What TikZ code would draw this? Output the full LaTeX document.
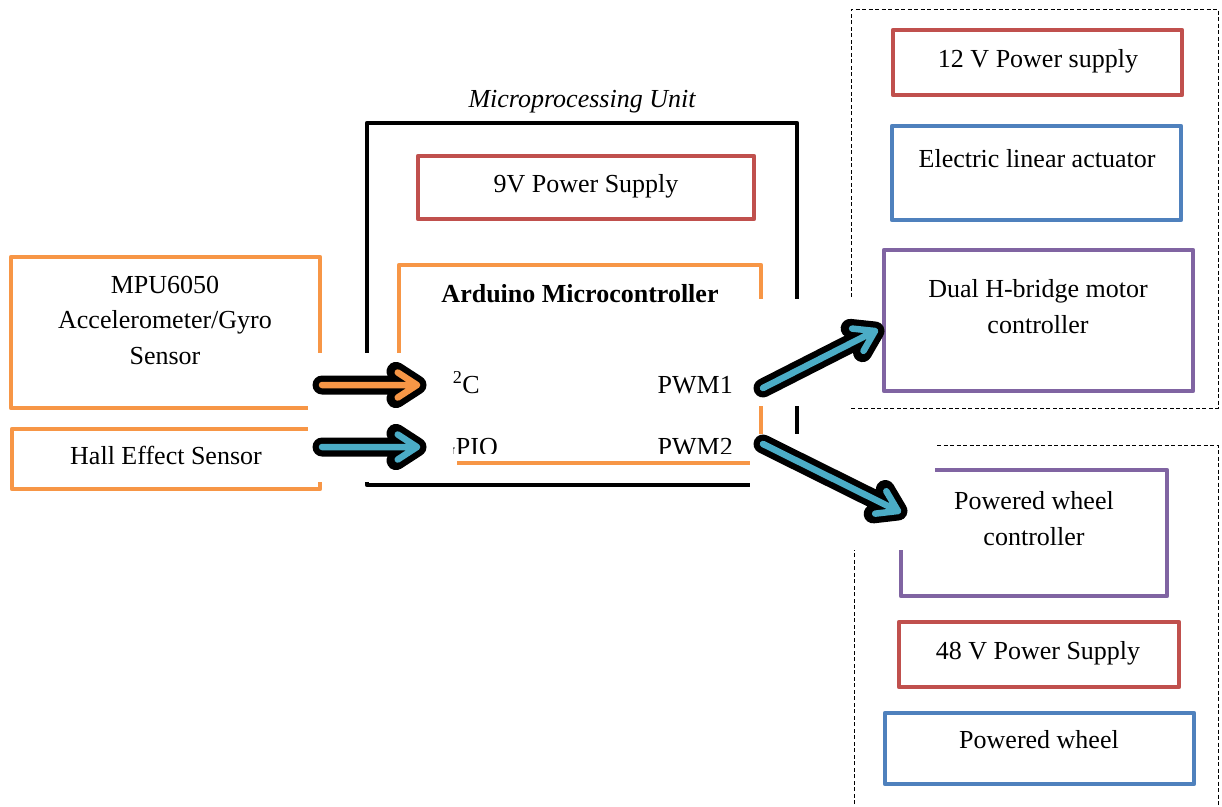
\documentclass[tikz,border=0pt]{standalone}
\usepackage{fontspec}
\setmainfont{Liberation Serif}
\usetikzlibrary{calc,fit}
\definecolor{orgc}{HTML}{F79646}
\definecolor{redc}{HTML}{C0504D}
\definecolor{bluc}{HTML}{4F81BD}
\definecolor{purc}{HTML}{8064A2}
\definecolor{tealc}{HTML}{4BACC6}
\newcommand\sz{\fontsize{26}{35.5}\selectfont}
\newcommand\skarrow[3]{%
  \draw[line width=19pt, line cap=round, line join=round] (#2) -- (#3) ($(#3)!25pt!33:(#2)$) -- (#3) -- ($(#3)!25pt!-33:(#2)$);
  \draw[draw=#1, line width=6.5pt, line cap=round, line join=round] (#2) -- (#3) ($(#3)!23pt!33:(#2)$) -- (#3) -- ($(#3)!23pt!-33:(#2)$);}
\begin{document}
\begin{tikzpicture}[x=1pt,y=-1pt,
  box/.style={draw, line width=4.2pt, line join=round, inner sep=0pt},
  frame/.style={draw=black, line width=4.5pt, line join=round, inner sep=0pt},
  dash1/.style={draw=black, line width=1pt, dash pattern=on 4pt off 2.5pt, inner sep=0pt},
  txt/.style={font=\sz, inner sep=0pt, anchor=base, align=center},
  hide/.style={fill=white, draw=none}]
\fill[white] (0,0) rectangle (1222,806);
\useasboundingbox (0,0) rectangle (1222,806);

% left sensors
\node[box, draw=orgc, fit={(11,257) (320,408)}] (mpu) {};
\node[box, draw=orgc, fit={(12,429) (320,489)}] (hall) {};

% microprocessing unit
\node[frame, fit={(367,123) (797,485)}] (mpuframe) {};
\node[box, draw=redc, fit={(418,156) (754,219)}] (ps9) {};
\node[box, draw=orgc, fit={(399,265) (761,463)}] (ard) {};

% right group 1
\draw[dash1] (851,297) -- (851,9) -- (1218,9) -- (1218,408) -- (851,408);
\node[box, draw=redc, fit={(893,30) (1182,95)}] (ps12) {};
\node[box, draw=bluc, fit={(892,126) (1181,220)}] (act) {};
\node[box, draw=purc, fit={(884,250) (1193,391)}] (hbr) {};

% right group 2
\draw[dash1] (854,830) -- (854,445) -- (1218,445) -- (1218,830);
\node[box, draw=purc, fit={(901,470) (1167,596)}] (pwc) {};
\node[box, draw=redc, fit={(899,622) (1179,687)}] (ps48) {};
\node[box, draw=bluc, fit={(885,713) (1194,784)}] (pw) {};

% white occluding areas
\fill[hide] (308,353) rectangle (457,482);
\fill[hide] (750,299) rectangle (882,406);
\fill[hide] (750,434) rectangle (935,550);

% texts (multi-line nodes are placed by the baseline of their last line)
\node[txt] (tmpu) at (165,364) {MPU6050\\Accelerometer/Gyro\\Sensor};
\node[txt] (thall) at (166,464) {Hall Effect Sensor};
\node[txt, font=\sz\itshape] (tunit) at (582,107) {Microprocessing Unit};
\node[txt] (t9) at (586,192) {9V Power Supply};
\node[txt, font=\sz\bfseries] (tard) at (580,302) {Arduino Microcontroller};
\node[txt] (t12) at (1038,67) {12 V Power supply};
\node[txt] (tact) at (1037,167) {Electric linear actuator};
\node[txt] (thbr) at (1038,333) {Dual H-bridge motor\\controller};
\node[txt] (tpwc) at (1034,545) {Powered wheel\\controller};
\node[txt] (t48) at (1038,659) {48 V Power Supply};
\node[txt] (tpw) at (1039,748) {Powered wheel};

\begin{scope}
\clip (453,340) rectangle (760,453);
\node[txt, anchor=base west] (i2c) at (444,393) {I\textsuperscript{2}C};
\node[txt, anchor=base west] (gpio) at (437,455) {GPIO};
\node[txt, anchor=base east] (pwm1) at (733,393) {PWM1};
\node[txt, anchor=base east] (pwm2) at (733,455) {PWM2};
\end{scope}

% arrows
\coordinate (a1s) at (322,385); \coordinate (a1t) at (417,385);
\coordinate (a2s) at (322,447); \coordinate (a2t) at (417,447);
\coordinate (a3s) at (763,388); \coordinate (a3t) at (875,331);
\coordinate (a4s) at (763,444); \coordinate (a4t) at (898,511);
\skarrow{orgc}{a1s}{a1t}
\skarrow{tealc}{a2s}{a2t}
\skarrow{tealc}{a3s}{a3t}
\skarrow{tealc}{a4s}{a4t}
\end{tikzpicture}
\end{document}
